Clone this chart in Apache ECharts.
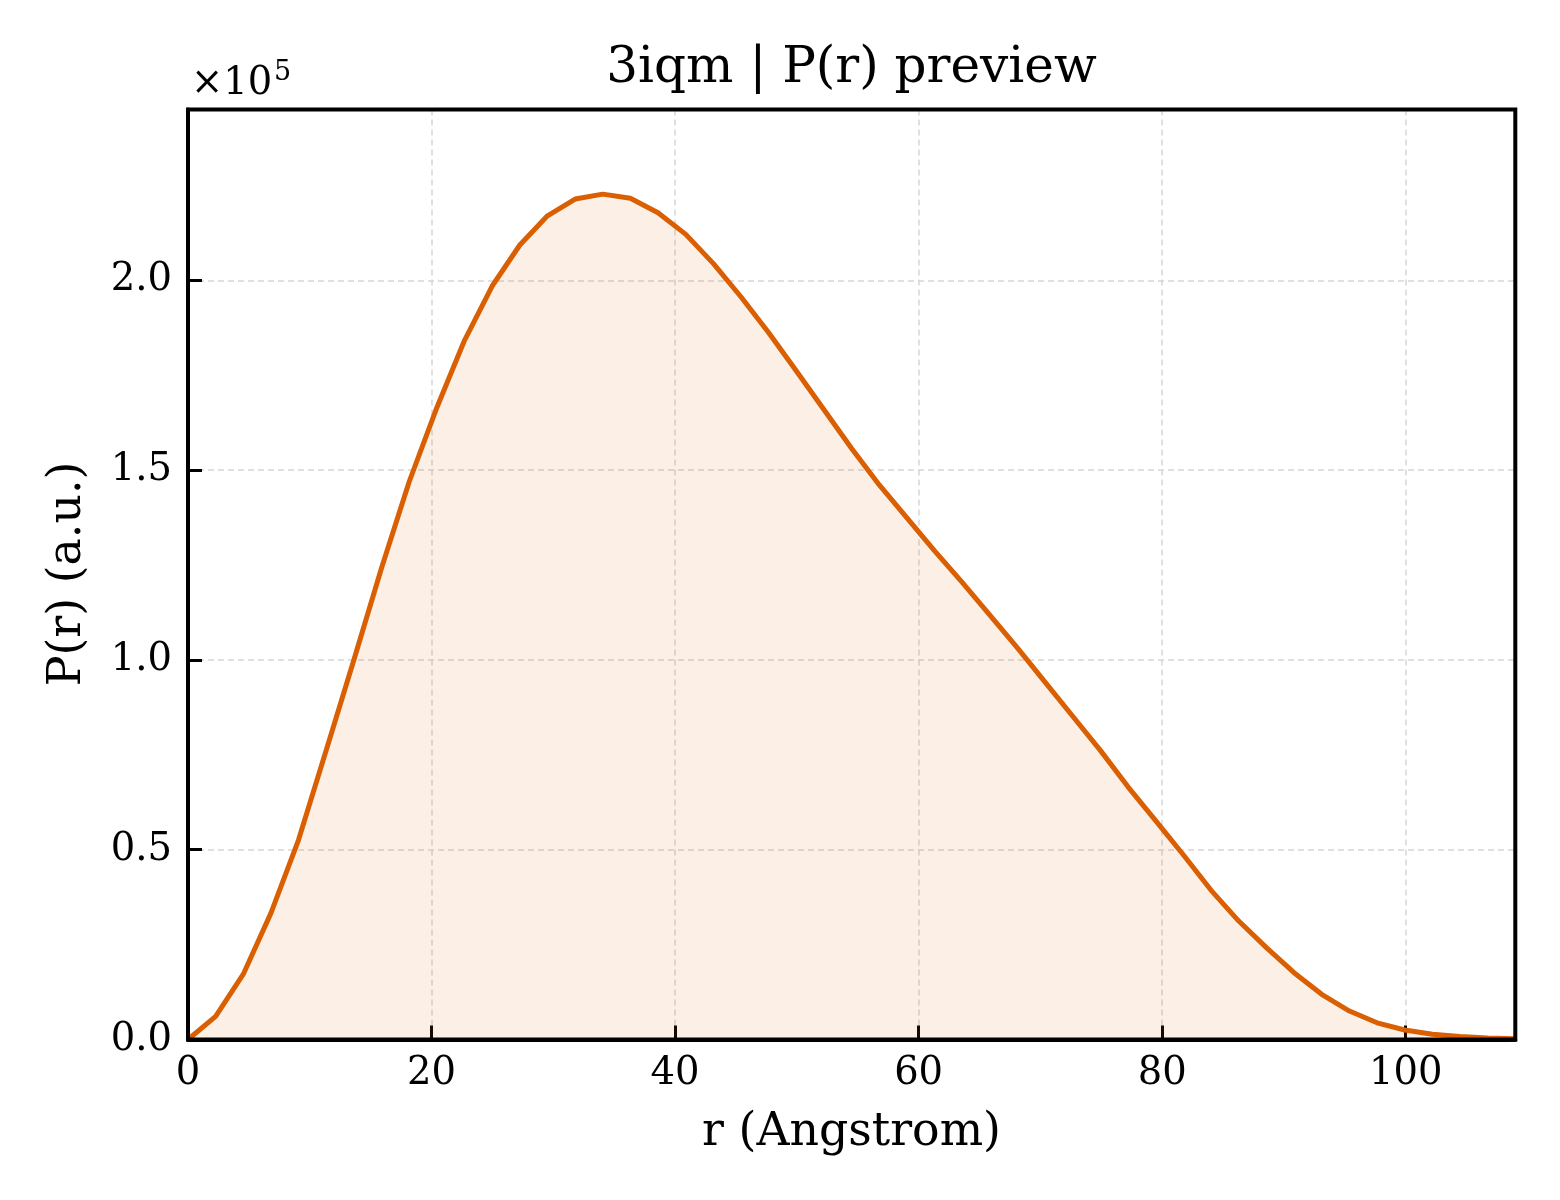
<!DOCTYPE html>
<html>
<head>
<meta charset="utf-8">
<script src="https://cdn.jsdelivr.net/npm/echarts@6/dist/echarts.min.js"></script>
<style>
  html, body { margin: 0; padding: 0; background: #ffffff; }
  #chart { width: 1560px; height: 1200px; }
</style>
</head>
<body>
<div id="chart"></div>
<script>
// ---- data ----
const titleText = '3iqm | P(r) preview';
const xAxisName = 'r (Angstrom)';
const yAxisName = 'P(r) (a.u.)';
const xTicks = [0, 20, 40, 60, 80, 100];
const yTicks = [0, 50000, 100000, 150000, 200000];
const rValues = [
  0.00, 2.27, 4.54, 6.81, 9.08, 11.35, 13.62, 15.90, 18.17, 20.44,
  22.71, 24.98, 27.25, 29.52, 31.79, 34.06, 36.33, 38.60, 40.88, 43.15,
  45.42, 47.69, 49.96, 52.23, 54.50, 56.77, 59.04, 61.31, 63.58, 65.85,
  68.13, 70.40, 72.67, 74.94, 77.21, 79.48, 81.75, 84.02, 86.29, 88.56,
  90.83, 93.10, 95.38, 97.65, 99.92, 102.19, 104.46, 106.73, 109.00
];
const prValues = [
  0, 6100, 17200, 33300, 52600, 76200, 100000, 124300, 147000, 166500,
  184200, 198500, 209300, 217000, 221400, 222700, 221600, 217800, 212100, 204400,
  195600, 186200, 176100, 165900, 155700, 146100, 137400, 128700, 120400, 111800,
  103100, 94100, 85100, 76100, 66500, 57600, 48600, 39300, 31200, 24200,
  17600, 11900, 7500, 4400, 2500, 1400, 800, 400, 200
];

const serif = '"DejaVu Serif", "Liberation Serif", serif';
const lineColor = '#d95f02';

const G = { left: 188, right: 1515.3, top: 109.5, bottom: 1039.5 };

const chart = echarts.init(document.getElementById('chart'), null, { renderer: 'canvas' });

const points = rValues.map((r, i) => [r, prValues[i]]);

chart.setOption({
  animation: false,
  backgroundColor: '#ffffff',
  grid: {
    left: G.left, right: 1560 - G.right, top: G.top, bottom: 1200 - G.bottom,
    show: false
  },
  xAxis: {
    type: 'value',
    min: 0, max: 109, interval: 20,
    axisLine: { show: true, onZero: false, lineStyle: { color: '#000', width: 4 } },
    axisTick: { show: true, inside: true, length: 14, lineStyle: { color: '#000', width: 3 } },
    axisLabel: {
      show: true, margin: 15, color: '#000',
      fontFamily: serif, fontSize: 38.5,
      formatter: v => xTicks.includes(Math.round(v * 1000) / 1000) ? String(v) : ''
    },
    splitLine: { show: true, lineStyle: { color: '#d6d6d6', width: 1.5, type: [6, 4] } }
  },
  yAxis: {
    type: 'value',
    min: 0, max: 245000, interval: 50000,
    axisLine: { show: true, onZero: false, lineStyle: { color: '#000', width: 4 } },
    axisTick: { show: true, inside: true, length: 14, lineStyle: { color: '#000', width: 3 } },
    axisLabel: {
      show: true, margin: 16, color: '#000',
      fontFamily: serif, fontSize: 38.5,
      formatter: v => yTicks.includes(Math.round(v)) ? (v / 100000).toFixed(1) : ''
    },
    splitLine: { show: true, lineStyle: { color: '#d6d6d6', width: 1.5, type: [6, 4] } }
  },
  series: [{
    type: 'line',
    data: points,
    showSymbol: false,
    smooth: false,
    clip: true,
    lineStyle: { color: lineColor, width: 5, join: 'round' },
    itemStyle: { color: lineColor },
    areaStyle: { color: 'rgba(217,95,2,0.14)', origin: 'start' },
    z: 3
  }],
  graphic: [
    {
      type: 'rect', z: 100, silent: true,
      shape: { x: G.left, y: G.top, width: G.right - G.left, height: G.bottom - G.top },
      style: { fill: 'none', stroke: '#000', lineWidth: 4 }
    },
    {
      type: 'text', x: 851.5, y: 69, z: 10,
      style: { text: titleText, fill: '#000', font: '50px ' + serif, align: 'center', verticalAlign: 'middle' }
    },
    {
      type: 'text', x: 851.5, y: 1133, z: 10,
      style: { text: xAxisName, fill: '#000', font: '45.8px ' + serif, align: 'center', verticalAlign: 'middle' }
    },
    {
      type: 'text', x: 68, y: 574, rotation: Math.PI / 2, z: 10,
      style: { text: yAxisName, fill: '#000', font: '45.8px ' + serif, align: 'center', verticalAlign: 'middle' }
    },
    {
      type: 'text', x: 191, y: 84, z: 10,
      style: { text: '×10', fill: '#000', font: '38.5px ' + serif, align: 'left', verticalAlign: 'middle' }
    },
    {
      type: 'text', x: 274, y: 73, z: 10,
      style: { text: '5', fill: '#000', font: '27px ' + serif, align: 'left', verticalAlign: 'middle' }
    }
  ]
});
</script>
</body>
</html>
